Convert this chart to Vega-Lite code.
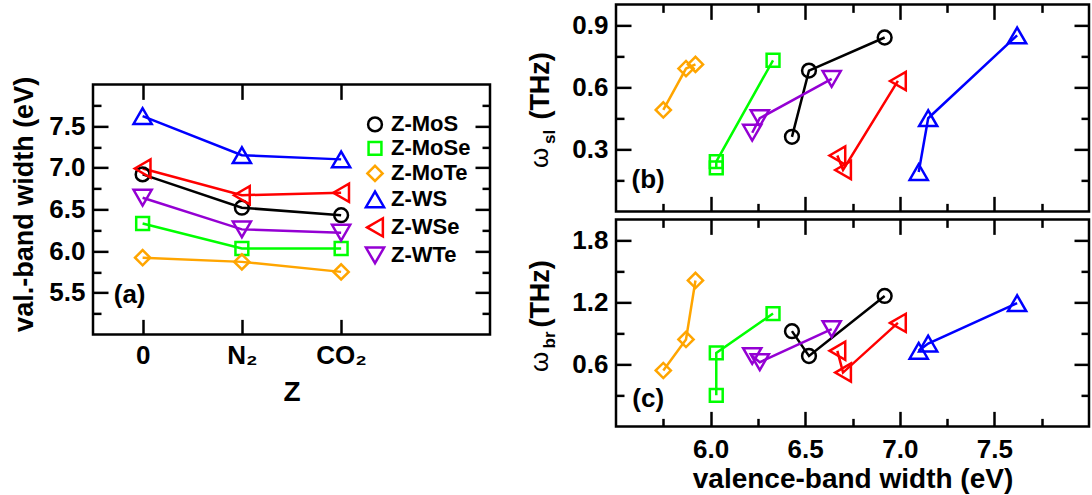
{
  "$schema": "https://vega.github.io/schema/vega-lite/v6.json",
  "background": "white",
  "padding": {"left": 9, "top": 1, "right": 2, "bottom": 1},
  "config": {
    "font": "Liberation Sans",
    "view": {"stroke": "#000000", "strokeWidth": 2.5},
    "axis": {
      "domain": false, "grid": false, "zindex": 1,
      "labelFont": "Liberation Sans", "labelFontSize": 26, "labelFontWeight": "bold", "labelColor": "#000000",
      "titleFont": "Liberation Sans", "titleFontSize": 28, "titleFontWeight": "bold", "titleColor": "#000000",
      "ticks": true, "tickColor": "#000000", "tickWidth": 2.5, "tickOpacity": 1, "labelAngle": 0, "labelOverlap": false
    },
    "legend": {
      "labelFont": "Liberation Sans", "labelFontSize": 22, "labelFontWeight": "bold", "labelColor": "#000000",
      "symbolSize": 240, "symbolStrokeWidth": 2.5, "rowPadding": 0, "labelOffset": 5, "padding": 0
    }
  },
  "datasets": {
    "vb": [
      {"mat": "Z-MoS", "Z": "0", "vbw": 6.92, "wsl": 0.84, "wbr": 1.26},
      {"mat": "Z-MoS", "Z": "N₂", "vbw": 6.52, "wsl": 0.68, "wbr": 0.68},
      {"mat": "Z-MoS", "Z": "CO₂", "vbw": 6.43, "wsl": 0.36, "wbr": 0.92},
      {"mat": "Z-MoSe", "Z": "0", "vbw": 6.33, "wsl": 0.73, "wbr": 1.09},
      {"mat": "Z-MoSe", "Z": "N₂", "vbw": 6.03, "wsl": 0.21, "wbr": 0.30},
      {"mat": "Z-MoSe", "Z": "CO₂", "vbw": 6.03, "wsl": 0.24, "wbr": 0.71},
      {"mat": "Z-MoTe", "Z": "0", "vbw": 5.92, "wsl": 0.71, "wbr": 1.41},
      {"mat": "Z-MoTe", "Z": "N₂", "vbw": 5.87, "wsl": 0.69, "wbr": 0.84},
      {"mat": "Z-MoTe", "Z": "CO₂", "vbw": 5.75, "wsl": 0.49, "wbr": 0.54},
      {"mat": "Z-WS", "Z": "0", "vbw": 7.62, "wsl": 0.85, "wbr": 1.19},
      {"mat": "Z-WS", "Z": "N₂", "vbw": 7.15, "wsl": 0.45, "wbr": 0.80},
      {"mat": "Z-WS", "Z": "CO₂", "vbw": 7.10, "wsl": 0.19, "wbr": 0.73},
      {"mat": "Z-WSe", "Z": "0", "vbw": 6.99, "wsl": 0.63, "wbr": 1.00},
      {"mat": "Z-WSe", "Z": "N₂", "vbw": 6.67, "wsl": 0.27, "wbr": 0.73},
      {"mat": "Z-WSe", "Z": "CO₂", "vbw": 6.70, "wsl": 0.20, "wbr": 0.52},
      {"mat": "Z-WTe", "Z": "0", "vbw": 6.64, "wsl": 0.64, "wbr": 0.94},
      {"mat": "Z-WTe", "Z": "N₂", "vbw": 6.26, "wsl": 0.45, "wbr": 0.62},
      {"mat": "Z-WTe", "Z": "CO₂", "vbw": 6.22, "wsl": 0.38, "wbr": 0.68}
    ]
  },
  "spacing": 31,
  "center": true,
  "resolve": {"scale": {"color": "independent", "shape": "independent", "size": "independent"}},
  "hconcat": [
    {
      "width": 397,
      "height": 250,
      "data": {"name": "vb"},
      "resolve": {"axis": {"x": "independent", "y": "independent"}},
      "layer": [
        {
          "mark": {"type": "line", "strokeWidth": 2.5},
          "encoding": {
            "x": {
              "field": "Z", "type": "nominal",
              "scale": {"type": "point", "domain": ["0", "N₂", "CO₂"], "padding": 1, "align": 0.25},
              "axis": {"orient": "bottom", "offset": -15, "tickSize": 15, "labelPadding": 8, "title": "Z", "titlePadding": 10}
            },
            "y": {
              "field": "vbw", "type": "quantitative",
              "scale": {"domain": [5, 8], "nice": false, "zero": false},
              "axis": {
                "orient": "left", "offset": -15, "tickSize": 15,
                "values": [5.5, 6, 6.5, 7, 7.5], "format": ".1f", "labelPadding": 8,
                "title": "val.-band width (eV)", "titlePadding": 10, "titleFontSize": 27, "titleY": 119.5
              }
            },
            "color": {
              "field": "mat", "type": "nominal",
              "scale": {"domain": ["Z-MoS", "Z-MoSe", "Z-MoTe", "Z-WS", "Z-WSe", "Z-WTe"], "range": ["#000000", "#00ff00", "#ffa500", "#0000ff", "#ff0000", "#9400d3"]}
            },
            "order": {"value": null}
          }
        },
        {
          "mark": {"type": "point", "filled": false, "strokeWidth": 2.5, "opacity": 1},
          "encoding": {
            "x": {"field": "Z", "type": "nominal", "axis": {"orient": "top", "offset": -15, "tickSize": 15, "labels": false, "title": null}},
            "y": {"field": "vbw", "type": "quantitative", "axis": {"orient": "right", "offset": -15, "tickSize": 15, "values": [5.5, 6, 6.5, 7, 7.5], "labels": false, "title": null}},
            "color": {
              "field": "mat", "type": "nominal",
              "legend": {"orient": "none", "legendX": 271, "legendY": 29, "title": null}
            },
            "shape": {
              "field": "mat", "type": "nominal",
              "scale": {"domain": ["Z-MoS", "Z-MoSe", "Z-MoTe", "Z-WS", "Z-WSe", "Z-WTe"], "range": ["circle", "square", "diamond", "triangle-up", "triangle-left", "triangle-down"]}
            },
            "size": {
              "field": "mat", "type": "nominal",
              "scale": {"type": "ordinal", "domain": ["Z-MoS", "Z-MoSe", "Z-MoTe", "Z-WS", "Z-WSe", "Z-WTe"], "range": [190, 165, 230, 330, 330, 330]},
              "legend": null
            }
          }
        },
        {
          "mark": {"type": "point", "opacity": 0},
          "encoding": {
            "x": {"field": "Z", "type": "nominal", "axis": null},
            "y": {"field": "vbw", "type": "quantitative", "axis": {"orient": "left", "offset": -8, "tickSize": 8, "values": [5.25, 5.75, 6.25, 6.75, 7.25, 7.75], "labels": false, "title": null}}
          }
        },
        {
          "mark": {"type": "point", "opacity": 0},
          "encoding": {
            "x": {"field": "Z", "type": "nominal", "axis": null},
            "y": {
              "field": "vbw", "type": "quantitative",
              "axis": {
                "orient": "right", "offset": -8, "tickSize": 8, "values": [5.25, 5.75, 6.25, 6.75, 7.25, 7.75], "labels": false,
                "title": " ", "titleFontSize": 10, "titleAngle": 0, "titleX": -200, "titleY": 319, "titleBaseline": "top", "titleAlign": "center"
              }
            }
          }
        },
        {
          "data": {"values": [{}]},
          "mark": {"type": "text", "text": "(a)", "font": "Liberation Sans", "fontSize": 26, "fontWeight": "bold", "align": "center", "baseline": "middle", "dx": -13},
          "encoding": {
            "x": {"datum": "0", "type": "nominal", "axis": null},
            "y": {"datum": 5.47, "type": "quantitative", "axis": null}
          }
        }
      ]
    },
    {
      "spacing": 2,
      "vconcat": [
        {
          "width": 473,
          "height": 207,
          "data": {"name": "vb"},
          "resolve": {"axis": {"x": "independent", "y": "independent"}},
          "layer": [
            {
              "mark": {"type": "line", "strokeWidth": 2.5},
              "encoding": {
                "x": {
                  "field": "vbw", "type": "quantitative",
                  "scale": {"domain": [5.5, 8], "nice": false, "zero": false},
                  "axis": {"orient": "bottom", "offset": -15, "tickSize": 15, "values": [6, 6.5, 7, 7.5], "labels": false, "title": null}
                },
                "y": {
                  "field": "wsl", "type": "quantitative",
                  "scale": {"domain": [0, 1], "nice": false},
                  "axis": {
                    "orient": "left", "offset": -15, "tickSize": 15,
                    "values": [0.3, 0.6, 0.9], "format": ".1f", "labelPadding": 8,
                    "title": "ω",
                    "titleX": -84, "titleY": 153, "titleAngle": -90,
                    "titleAlign": "center", "titleBaseline": "alphabetic",
                    "titleFontSize": 26, "titleFontWeight": "normal"
                  }
                },
                "color": {
                  "field": "mat", "type": "nominal",
                  "scale": {"domain": ["Z-MoS", "Z-MoSe", "Z-MoTe", "Z-WS", "Z-WSe", "Z-WTe"], "range": ["#000000", "#00ff00", "#ffa500", "#0000ff", "#ff0000", "#9400d3"]},
                  "legend": null
                },
                "order": [{"field": "vbw", "type": "quantitative"}, {"field": "wsl", "type": "quantitative"}]
              }
            },
            {
              "mark": {"type": "point", "filled": false, "strokeWidth": 2.5, "opacity": 1},
              "encoding": {
                "x": {
                  "field": "vbw", "type": "quantitative",
                  "axis": {
                    "orient": "top", "offset": -15, "tickSize": 15, "values": [6, 6.5, 7, 7.5], "labels": false,
                    "title": "(THz)",
                    "titleX": -68, "titleY": 66, "titleAngle": -90,
                    "titleAlign": "center", "titleBaseline": "alphabetic",
                    "titleFontSize": 27
                  }
                },
                "y": {
                  "field": "wsl", "type": "quantitative",
                  "axis": {
                    "orient": "right", "offset": -15, "tickSize": 15, "values": [0.3, 0.6, 0.9], "labels": false,
                    "title": "sl",
                    "titleX": -520, "titleY": 132, "titleAngle": -90,
                    "titleAlign": "center", "titleBaseline": "alphabetic",
                    "titleFontSize": 17
                  }
                },
                "color": {"field": "mat", "type": "nominal", "legend": null},
                "shape": {
                  "field": "mat", "type": "nominal",
                  "scale": {"domain": ["Z-MoS", "Z-MoSe", "Z-MoTe", "Z-WS", "Z-WSe", "Z-WTe"], "range": ["circle", "square", "diamond", "triangle-up", "triangle-left", "triangle-down"]},
                  "legend": null
                },
                "size": {
                  "field": "mat", "type": "nominal",
                  "scale": {"type": "ordinal", "domain": ["Z-MoS", "Z-MoSe", "Z-MoTe", "Z-WS", "Z-WSe", "Z-WTe"], "range": [190, 165, 230, 330, 330, 330]},
                  "legend": null
                }
              }
            },
            {
              "mark": {"type": "point", "opacity": 0},
              "encoding": {
                "x": {"field": "vbw", "type": "quantitative", "axis": {"orient": "bottom", "offset": -8, "tickSize": 8, "values": [5.75, 6.25, 6.75, 7.25, 7.75], "labels": false, "title": null}},
                "y": {"field": "wsl", "type": "quantitative", "axis": {"orient": "left", "offset": -8, "tickSize": 8, "values": [0.15, 0.45, 0.75], "labels": false, "title": null}}
              }
            },
            {
              "mark": {"type": "point", "opacity": 0},
              "encoding": {
                "x": {"field": "vbw", "type": "quantitative", "axis": {"orient": "top", "offset": -8, "tickSize": 8, "values": [5.75, 6.25, 6.75, 7.25, 7.75], "labels": false, "title": null}},
                "y": {"field": "wsl", "type": "quantitative", "axis": {"orient": "right", "offset": -8, "tickSize": 8, "values": [0.15, 0.45, 0.75], "labels": false, "title": null}}
              }
            },
            {
              "data": {"values": [{}]},
              "mark": {"type": "text", "text": "(b)", "font": "Liberation Sans", "fontSize": 26, "fontWeight": "bold", "align": "center", "baseline": "middle"},
              "encoding": {
                "x": {"datum": 5.67, "type": "quantitative", "axis": null},
                "y": {"datum": 0.15, "type": "quantitative", "axis": null}
              }
            }
          ]
        },
        {
          "width": 473,
          "height": 207,
          "data": {"name": "vb"},
          "resolve": {"axis": {"x": "independent", "y": "independent"}},
          "layer": [
            {
              "mark": {"type": "line", "strokeWidth": 2.5},
              "encoding": {
                "x": {
                  "field": "vbw", "type": "quantitative",
                  "scale": {"domain": [5.5, 8], "nice": false, "zero": false},
                  "axis": {
                    "orient": "bottom", "offset": -15, "tickSize": 15,
                    "values": [6, 6.5, 7, 7.5], "format": ".1f", "labelPadding": 10,
                    "title": "valence-band width (eV)", "titlePadding": 3
                  }
                },
                "y": {
                  "field": "wbr", "type": "quantitative",
                  "scale": {"domain": [0, 2], "nice": false},
                  "axis": {
                    "orient": "left", "offset": -15, "tickSize": 15,
                    "values": [0.6, 1.2, 1.8], "format": ".1f", "labelPadding": 8,
                    "title": "ω",
                    "titleX": -84, "titleY": 142, "titleAngle": -90,
                    "titleAlign": "center", "titleBaseline": "alphabetic",
                    "titleFontSize": 26, "titleFontWeight": "normal"
                  }
                },
                "color": {
                  "field": "mat", "type": "nominal",
                  "scale": {"domain": ["Z-MoS", "Z-MoSe", "Z-MoTe", "Z-WS", "Z-WSe", "Z-WTe"], "range": ["#000000", "#00ff00", "#ffa500", "#0000ff", "#ff0000", "#9400d3"]},
                  "legend": null
                },
                "order": [{"field": "vbw", "type": "quantitative"}, {"field": "wbr", "type": "quantitative"}]
              }
            },
            {
              "mark": {"type": "point", "filled": false, "strokeWidth": 2.5, "opacity": 1},
              "encoding": {
                "x": {
                  "field": "vbw", "type": "quantitative",
                  "axis": {
                    "orient": "top", "offset": -15, "tickSize": 15, "values": [6, 6.5, 7, 7.5], "labels": false,
                    "title": "(THz)",
                    "titleX": -68, "titleY": 59, "titleAngle": -90,
                    "titleAlign": "center", "titleBaseline": "alphabetic",
                    "titleFontSize": 27
                  }
                },
                "y": {
                  "field": "wbr", "type": "quantitative",
                  "axis": {
                    "orient": "right", "offset": -15, "tickSize": 15, "values": [0.6, 1.2, 1.8], "labels": false,
                    "title": "br",
                    "titleX": -520, "titleY": 120, "titleAngle": -90,
                    "titleAlign": "center", "titleBaseline": "alphabetic",
                    "titleFontSize": 17
                  }
                },
                "color": {"field": "mat", "type": "nominal", "legend": null},
                "shape": {
                  "field": "mat", "type": "nominal",
                  "scale": {"domain": ["Z-MoS", "Z-MoSe", "Z-MoTe", "Z-WS", "Z-WSe", "Z-WTe"], "range": ["circle", "square", "diamond", "triangle-up", "triangle-left", "triangle-down"]},
                  "legend": null
                },
                "size": {
                  "field": "mat", "type": "nominal",
                  "scale": {"type": "ordinal", "domain": ["Z-MoS", "Z-MoSe", "Z-MoTe", "Z-WS", "Z-WSe", "Z-WTe"], "range": [190, 165, 230, 330, 330, 330]},
                  "legend": null
                }
              }
            },
            {
              "mark": {"type": "point", "opacity": 0},
              "encoding": {
                "x": {"field": "vbw", "type": "quantitative", "axis": {"orient": "bottom", "offset": -8, "tickSize": 8, "values": [5.75, 6.25, 6.75, 7.25, 7.75], "labels": false, "title": null}},
                "y": {"field": "wbr", "type": "quantitative", "axis": {"orient": "left", "offset": -8, "tickSize": 8, "values": [0.3, 0.9, 1.5], "labels": false, "title": null}}
              }
            },
            {
              "mark": {"type": "point", "opacity": 0},
              "encoding": {
                "x": {"field": "vbw", "type": "quantitative", "axis": {"orient": "top", "offset": -8, "tickSize": 8, "values": [5.75, 6.25, 6.75, 7.25, 7.75], "labels": false, "title": null}},
                "y": {"field": "wbr", "type": "quantitative", "axis": {"orient": "right", "offset": -8, "tickSize": 8, "values": [0.3, 0.9, 1.5], "labels": false, "title": null}}
              }
            },
            {
              "data": {"values": [{}]},
              "mark": {"type": "text", "text": "(c)", "font": "Liberation Sans", "fontSize": 26, "fontWeight": "bold", "align": "center", "baseline": "middle"},
              "encoding": {
                "x": {"datum": 5.67, "type": "quantitative", "axis": null},
                "y": {"datum": 0.26, "type": "quantitative", "axis": null}
              }
            }
          ]
        }
      ]
    }
  ]
}
